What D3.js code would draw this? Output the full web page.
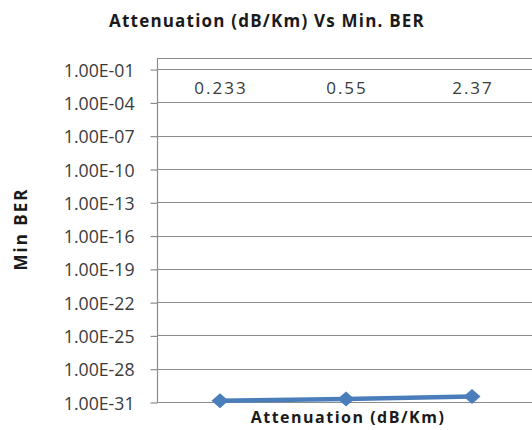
<!DOCTYPE html>
<html>
<head>
<meta charset="utf-8">
<script src="https://cdn.jsdelivr.net/npm/d3@7/dist/d3.min.js"></script>
<style>
  html, body { margin: 0; padding: 0; background: #fff; }
  svg { display: block; }
</style>
</head>
<body>
<svg id="chart" width="532" height="430"></svg>
<script>
// Attenuation values (category labels) and the minimum BER measured at each
const attenuation = ["0.233", "0.55", "2.37"];
const minBER = [1.3e-31, 1.9e-31, 3.2e-31];
// Log-axis tick values, every three decades
const berTicks = [1e-1, 1e-4, 1e-7, 1e-10, 1e-13, 1e-16, 1e-19, 1e-22, 1e-25, 1e-28, 1e-31];

const svg = d3.select("#chart");
const W = 532, H = 430;
const plot = { left: 157, right: 535, top: 58, bottom: 402 };

const x = d3.scaleBand().domain(attenuation).range([plot.left, plot.right]).padding(0);
const y = d3.scaleLog().domain([1e-31, 1]).range([plot.bottom, plot.top]);

const fmt = v => {
  const e = Math.round(Math.log10(v));
  const s = Math.abs(e).toString().padStart(2, "0");
  return "1.00E" + (e < 0 ? "-" : "+") + s;
};

const gridColor = "#8c8c8c";
const font = "'Open Sans', 'DejaVu Sans', sans-serif";

// Horizontal gridlines
svg.append("g")
  .selectAll("line")
  .data(berTicks)
  .join("line")
  .attr("x1", plot.left).attr("x2", W)
  .attr("y1", d => Math.round(y(d)) + 0.5)
  .attr("y2", d => Math.round(y(d)) + 0.5)
  .attr("stroke", gridColor)
  .attr("stroke-width", 1.2);

// Value axis on the left
const yAxis = d3.axisLeft(y)
  .tickValues(berTicks)
  .tickFormat(fmt)
  .tickSize(7)
  .tickPadding(16);

const gy = svg.append("g")
  .attr("transform", `translate(${plot.left + 0.5},0)`)
  .call(yAxis);
gy.select(".domain").attr("stroke", gridColor).attr("stroke-width", 1.2)
  .attr("d", `M0,${Math.round(y(1))}V${Math.round(y(1e-31)) + 0.5}`);
gy.selectAll(".tick line").attr("stroke", gridColor).attr("stroke-width", 1.2)
  .attr("transform", "translate(0,0.5)");
gy.selectAll(".tick text")
  .attr("fill", "#3a3a3a")
  .style("font-family", font)
  .style("font-size", "17.7px")
  .attr("dy", "0.4em");

// Category axis crossing at the top (BER = 1)
const xAxis = d3.axisBottom(x).tickSize(0).tickPadding(23);
const gx = svg.append("g")
  .attr("transform", `translate(0,${Math.round(y(1)) + 0.5})`)
  .call(xAxis);
gx.select(".domain").attr("stroke", gridColor).attr("stroke-width", 1.2)
  .attr("d", `M${plot.left},0H${W}`);
gx.selectAll(".tick text")
  .attr("fill", "#3a3a3a")
  .attr("dx", "1px")
  .style("font-family", font)
  .style("font-size", "17px")
  .style("letter-spacing", "2px");

// Data line and diamond markers
const blue = "#4a7ebb";
const pts = attenuation.map((c, i) => [x(c) + x.bandwidth() / 2, y(minBER[i])]);

svg.append("path")
  .datum(pts)
  .attr("d", d3.line())
  .attr("fill", "none")
  .attr("stroke", blue)
  .attr("stroke-width", 4.5);

svg.append("g")
  .selectAll("path")
  .data(pts)
  .join("path")
  .attr("transform", d => `translate(${d[0]},${d[1]})`)
  .attr("d", "M0,-7.5L8.5,0L0,7.5L-8.5,0Z")
  .attr("fill", blue);

// Titles
svg.append("text")
  .attr("x", 267).attr("y", 27)
  .attr("text-anchor", "middle")
  .style("font-family", font)
  .style("font-weight", "bold")
  .style("font-size", "17px")
  .style("letter-spacing", "1.2px")
  .attr("fill", "#1a1a1a")
  .text("Attenuation (dB/Km) Vs Min. BER");

svg.append("text")
  .attr("x", 348).attr("y", 423)
  .attr("text-anchor", "middle")
  .style("font-family", font)
  .style("font-weight", "bold")
  .style("font-size", "16px")
  .style("letter-spacing", "1.5px")
  .attr("fill", "#1a1a1a")
  .text("Attenuation (dB/Km)");

svg.append("text")
  .attr("transform", `translate(27,${(plot.top + plot.bottom) / 2 - 1}) rotate(-90)`)
  .attr("text-anchor", "middle")
  .style("font-family", font)
  .style("font-weight", "bold")
  .style("font-size", "17px")
  .style("letter-spacing", "2px")
  .attr("fill", "#1a1a1a")
  .text("Min BER");
</script>
</body>
</html>
